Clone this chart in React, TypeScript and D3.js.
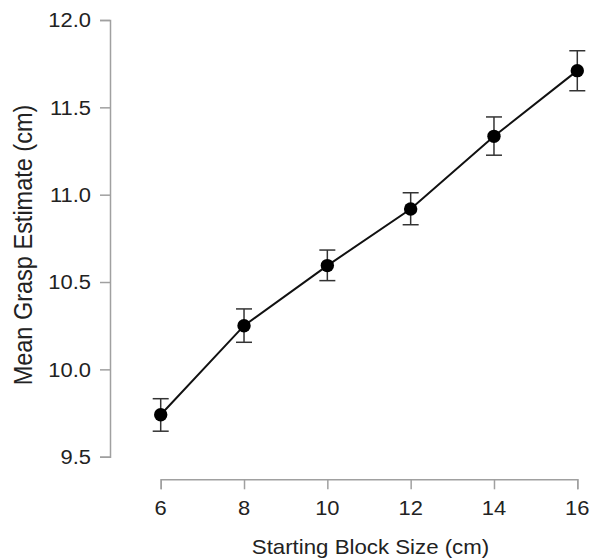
import React, { useRef, useEffect } from 'react';
import * as d3 from 'd3';

const blockSizes = [6, 8, 10, 12, 14, 16];
const meanEstimates = [9.74, 10.25, 10.594, 10.918, 11.334, 11.71];
const errLow = [9.646, 10.155, 10.508, 10.828, 11.226, 11.595];
const errHigh = [9.832, 10.346, 10.683, 11.011, 11.445, 11.824];
const yTicks = [9.5, 10.0, 10.5, 11.0, 11.5, 12.0];
const xLabel = 'Starting Block Size (cm)';
const yLabel = 'Mean Grasp Estimate (cm)';

const App = () => {
  const d3Container = useRef<HTMLDivElement>(null);

  useEffect(() => {
    if (!d3Container.current) return;
    d3.select(d3Container.current).select('svg').remove();

    const width = 595;
    const height = 560;
    const font = 'Liberation Sans, Arial, sans-serif';
    const axisColor = '#a0a0a0';
    const textColor = '#222';
    const stretch = 1.07; // the original is a bit wider than tall

    const svg = d3.select(d3Container.current)
      .append('svg')
      .attr('width', width)
      .attr('height', height)
      .style('position', 'absolute')
      .style('left', '0px')
      .style('top', '0px')
      .style('background', '#fff');

    const x = d3.scaleLinear().domain([6, 16]).range([160.7, 577.3]);
    const y = d3.scaleLinear().domain([9.5, 12]).range([456.7, 20]);

    // y axis (lines only, labels drawn below)
    const yAxis = svg.append('g')
      .attr('transform', 'translate(110,0)')
      .call(d3.axisLeft(y).tickValues(yTicks).tickFormat(() => '').tickSizeOuter(0).tickSize(10));
    yAxis.selectAll('path, line').attr('stroke', axisColor).attr('stroke-width', 1.5);

    svg.append('g')
      .selectAll('text')
      .data(yTicks)
      .enter()
      .append('text')
      .attr('transform', d => `translate(91,${y(d)}) scale(${stretch},1)`)
      .attr('dy', '0.35em')
      .attr('text-anchor', 'end')
      .attr('font-size', 20.5)
      .attr('font-family', font)
      .attr('fill', textColor)
      .text(d => d3.format('.1f')(d));

    // x axis
    const xAxis = svg.append('g')
      .attr('transform', 'translate(0,479.3)')
      .call(d3.axisBottom(x).tickValues(blockSizes).tickFormat(() => '').tickSizeOuter(0).tickSize(10));
    xAxis.selectAll('path, line').attr('stroke', axisColor).attr('stroke-width', 1.5);

    svg.append('g')
      .selectAll('text')
      .data(blockSizes)
      .enter()
      .append('text')
      .attr('transform', d => `translate(${x(d)},515) scale(${stretch},1)`)
      .attr('text-anchor', 'middle')
      .attr('font-size', 20.5)
      .attr('font-family', font)
      .attr('fill', textColor)
      .text(d => String(d));

    const data = blockSizes.map((b, i) => ({ b, m: meanEstimates[i], lo: errLow[i], hi: errHigh[i] }));

    // line
    svg.append('path')
      .datum(data)
      .attr('fill', 'none')
      .attr('stroke', '#111')
      .attr('stroke-width', 2)
      .attr('d', d3.line<any>().x(d => x(d.b)).y(d => y(d.m)));

    // error bars
    const eb = svg.append('g').attr('stroke', '#333').attr('stroke-width', 1.5);
    data.forEach(d => {
      eb.append('line').attr('x1', x(d.b)).attr('x2', x(d.b)).attr('y1', y(d.lo)).attr('y2', y(d.hi));
      eb.append('line').attr('x1', x(d.b) - 8).attr('x2', x(d.b) + 8).attr('y1', y(d.lo)).attr('y2', y(d.lo));
      eb.append('line').attr('x1', x(d.b) - 8).attr('x2', x(d.b) + 8).attr('y1', y(d.hi)).attr('y2', y(d.hi));
    });

    // points
    svg.append('g')
      .selectAll('circle')
      .data(data)
      .enter()
      .append('circle')
      .attr('cx', d => x(d.b))
      .attr('cy', d => y(d.m))
      .attr('r', 6.7)
      .attr('fill', '#000');

    // titles
    svg.append('text')
      .attr('transform', `translate(370.5,554) scale(${stretch},1)`)
      .attr('text-anchor', 'middle')
      .attr('font-size', 20.8)
      .attr('font-family', font)
      .attr('fill', textColor)
      .text(xLabel);

    svg.append('text')
      .attr('transform', `translate(31.7,245) scale(${stretch},1) rotate(-90)`)
      .attr('text-anchor', 'middle')
      .attr('font-size', 23.5)
      .attr('font-family', font)
      .attr('fill', textColor)
      .text(yLabel);
  }, []);

  return <div className="chart-container" ref={d3Container}></div>;
};

export default App;
